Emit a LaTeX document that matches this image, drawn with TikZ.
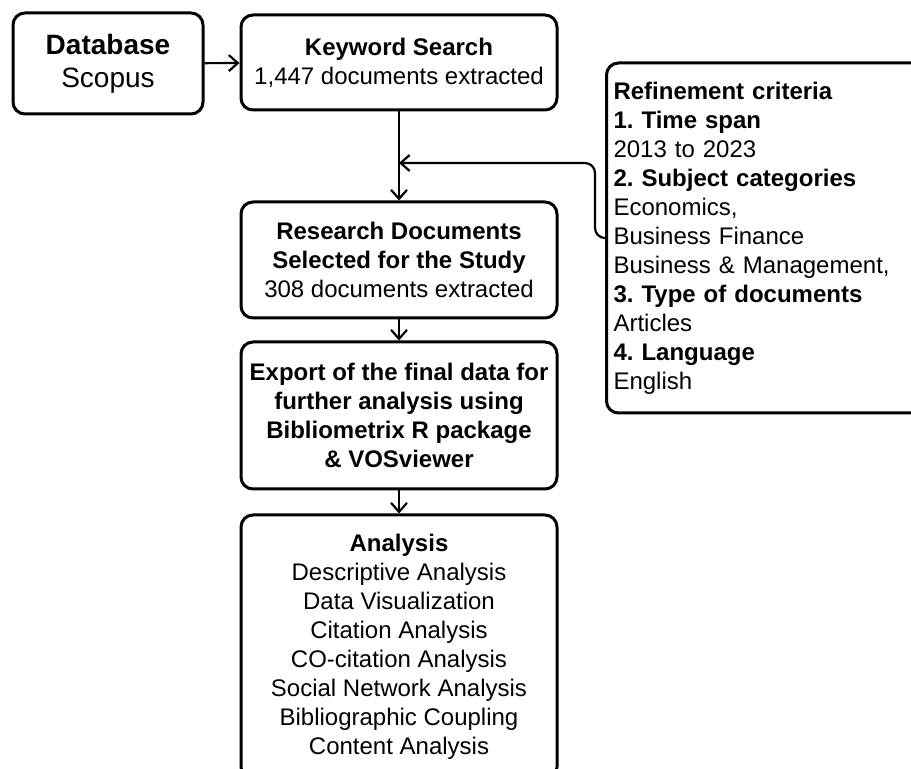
\documentclass[tikz,border=0pt]{standalone}
\usepackage{fontspec}
\setmainfont{Liberation Sans}
\frenchspacing
\usetikzlibrary{arrows.meta,positioning}
\tikzstyle{block} = [draw, rectangle, rounded corners=6pt, line width=1.5pt, align=center, inner sep=0pt, minimum width=158pt]
\tikzstyle{criteria} = [draw, rectangle, rounded corners=6pt, line width=1.5pt, align=left, inner xsep=3.5pt, inner ysep=0pt, text width=163pt, minimum height=175pt]
\tikzstyle{junction} = [coordinate]

\begin{document}
\begin{tikzpicture}[x=0.5pt, y=-0.5pt, >={Straight Barb[length=4.5pt, width=8pt]}, line width=1.1pt, font=\fontsize{12}{14.5}\selectfont]

\useasboundingbox (0,0) rectangle (911,769);
\clip (0,0) rectangle (911,769);

\node [block, minimum width=95pt, minimum height=50.5pt, font=\fontsize{14}{16.5}\selectfont] (database) at (108,63.5) {\textbf{Database}\\Scopus};
\node [block, minimum height=47.5pt] (keyword) at (399,62.5) {\textbf{Keyword Search}\\1,447 documents extracted};
\node [block, minimum height=58pt] (research) at (399,260) {\textbf{Research Documents}\\\textbf{Selected for the Study}\\308 documents extracted};
\node [block, minimum height=73.5pt] (export) at (399,415.5) {\textbf{Export of the final data for}\\\textbf{further analysis using}\\\textbf{Bibliometrix R package}\\\textbf{\& VOSviewer}};
\node [block, minimum height=132pt] (analysis) at (399,647) {\textbf{Analysis}\\Descriptive Analysis\\Data Visualization\\Citation Analysis\\CO-citation Analysis\\Social Network Analysis\\Bibliographic Coupling\\Content Analysis};

% refinement side box
\node [criteria, anchor=west] (refine) at (605,238) {\textbf{Refinement criteria}\\\textbf{1. Time span}\\2013 to 2023\\\textbf{2. Subject categories}\\Economics,\\Business Finance\\Business \& Management,\\\textbf{3. Type of documents}\\Articles\\\textbf{4. Language}\\English};

\node [junction] (join) at (399,163) {};
\node [junction] (bend) at (595,238) {};

\draw [->] (database) -- (keyword);
\draw [->] (keyword) -- (research);
\draw [->] (research) -- (export);
\draw [->] (export) -- (analysis);
\draw [->, rounded corners=5pt] (refine.west) -- (bend) |- (join);

\end{tikzpicture}
\end{document}
